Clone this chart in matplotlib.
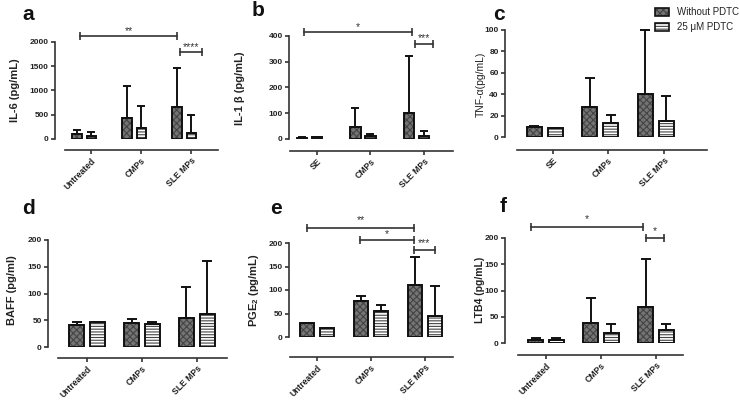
import matplotlib
matplotlib.use('Agg')
import matplotlib.pyplot as plt
from matplotlib.patches import Patch
import numpy as np

plt.rcParams['font.family'] = ['Liberation Sans', 'DejaVu Sans']
plt.rcParams['mathtext.fontset'] = 'custom'
plt.rcParams['mathtext.rm'] = 'Liberation Sans'
plt.rcParams['mathtext.bf'] = 'Liberation Sans:bold'
plt.rcParams['hatch.color'] = '#444444'
plt.rcParams['hatch.linewidth'] = 0.8

W, H = 740, 400
TXT = '#222222'

groups_a = ["Untreated", "CMPs", "SLE MPs"]
groups_se = ["SE", "CMPs", "SLE MPs"]
series_labels = ["Without PDTC", "25 \u03bcM PDTC"]

# means and upper error (pg/mL)
il6_dark = [100, 440, 670]
il6_dark_err = [90, 660, 790]
il6_light = [70, 220, 130]
il6_light_err = [70, 470, 360]

il1_dark = [5, 47, 100]
il1_dark_err = [2, 75, 222]
il1_light = [7, 10, 13]
il1_light_err = [2, 8, 20]

tnf_dark = [9, 28, 40]
tnf_dark_err = [1, 27, 60]
tnf_light = [8, 13, 15]
tnf_light_err = [0.5, 8, 23]

baff_dark = [41, 44, 55]
baff_dark_err = [6, 9, 57]
baff_light = [46, 43, 61]
baff_light_err = [1, 4, 99]

pge_dark = [29, 76, 110]
pge_dark_err = [1, 12, 60]
pge_light = [19, 55, 45]
pge_light_err = [1, 14, 63]

ltb_dark = [6, 38, 68]
ltb_dark_err = [4, 47, 92]
ltb_light = [6, 19, 25]
ltb_light_err = [4, 17, 11]

DARK_FACE = '#747474'
DARK_HATCH = 'xxxxx'
LIGHT_HATCH = '------'

fig = plt.figure(figsize=(W / 100, H / 100), dpi=100)


def px_axes(left, right, top, bottom):
    return fig.add_axes([left / W, 1 - bottom / H, (right - left) / W, (bottom - top) / H])


def panel(box, xlim, ylim, yticks, dark, dark_err, light, light_err, cats,
          width, off, tick_off, y_out, x_out, cap):
    ax = px_axes(*box)
    # spines first: set_position resets the tick labels
    ax.spines['top'].set_visible(False)
    ax.spines['right'].set_visible(False)
    ax.spines['left'].set_position(('outward', y_out * 0.72))
    ax.spines['bottom'].set_position(('outward', x_out * 0.72))
    for s in ['left', 'bottom']:
        ax.spines[s].set_linewidth(1.2)
        ax.spines[s].set_color('#333333')

    x = np.arange(len(cats))
    ax.bar(x - off, dark, width, color=DARK_FACE, hatch=DARK_HATCH, linewidth=0)
    ax.bar(x - off, dark, width, facecolor='none', edgecolor='#111111', linewidth=1.4)
    ax.bar(x + off, light, width, color='white', hatch=LIGHT_HATCH, linewidth=0)
    ax.bar(x + off, light, width, facecolor='none', edgecolor='#111111', linewidth=1.4)
    ax.errorbar(x - off, dark, yerr=[np.zeros(len(x)), dark_err], fmt='none',
                ecolor='#111111', elinewidth=1.4, capsize=cap, capthick=1.4, clip_on=False)
    ax.errorbar(x + off, light, yerr=[np.zeros(len(x)), light_err], fmt='none',
                ecolor='#111111', elinewidth=1.4, capsize=cap, capthick=1.4, clip_on=False)
    ax.set_xlim(*xlim)
    ax.set_ylim(*ylim)
    ax.set_yticks(yticks)
    ax.set_yticklabels([str(t) for t in yticks], fontsize=6, fontweight='bold', color=TXT)
    ax.set_xticks(x + tick_off)
    ax.set_xticklabels(cats, rotation=45, ha='right', rotation_mode='anchor',
                       fontsize=6.2, fontweight='bold', color=TXT)
    ax.tick_params(axis='both', length=3, width=1.2, color='#333333', pad=1.5)
    ax.set_facecolor('none')
    return ax


def bracket(ax, x1, x2, y, label, ty):
    ax.plot([x1, x2], [y, y], color='#333333', lw=1.2, marker='|', markersize=6,
            markeredgewidth=1.2, clip_on=False)
    ax.text((x1 + x2) / 2, ty, label, ha='center', va='center', fontsize=7.5,
            color='#333333', clip_on=False)


# a: IL-6
ax = panel((65, 218, 42, 139), (-0.38, 2.68), (0, 2000), [0, 500, 1000, 1500, 2000],
           il6_dark, il6_dark_err, il6_light, il6_light_err, groups_a,
           0.19, 0.145, 0.14, 10, 11, 2.8)
bracket(ax, -0.08, 1.86, 2124, '**', 2230)
bracket(ax, 1.92, 2.36, 1794, '****', 1900)

# b: IL-1 beta
ax = panel((290, 453, 36, 139), (-0.36, 2.68), (0, 400), [0, 100, 200, 300, 400],
           il1_dark, il1_dark_err, il1_light, il1_light_err, groups_se,
           0.19, 0.14, 0.14, 1, 12, 2.8)
bracket(ax, -0.10, 1.92, 416, '*', 436)
bracket(ax, 1.97, 2.31, 369, '***', 393)

# c: TNF-alpha
ax = panel((517, 707, 30, 137), (-0.50, 2.92), (0, 100), [0, 20, 40, 60, 80, 100],
           tnf_dark, tnf_dark_err, tnf_light, tnf_light_err, groups_se,
           0.27, 0.19, 0.14, 12, 13, 3.6)

# d: BAFF
ax = panel((58, 227, 240, 347), (-0.53, 2.55), (0, 200), [0, 50, 100, 150, 200],
           baff_dark, baff_dark_err, baff_light, baff_light_err, groups_a,
           0.27, 0.19, 0.0, 10, 11, 3.6)

# e: PGE2
ax = panel((290, 453, 243, 337), (-0.50, 2.52), (0, 200), [0, 50, 100, 150, 200],
           pge_dark, pge_dark_err, pge_light, pge_light_err, groups_a,
           0.26, 0.185, 0.0, 1, 20, 3.6)
bracket(ax, -0.19, 1.80, 232, '**', 248)
bracket(ax, 0.80, 1.80, 206, '*', 220)
bracket(ax, 1.80, 2.18, 185, '***', 199)

# f: LTB4
ax = panel((518, 683, 238, 343), (-0.51, 2.49), (0, 200), [0, 50, 100, 150, 200],
           ltb_dark, ltb_dark_err, ltb_light, ltb_light_err, groups_a,
           0.27, 0.185, 0.0, 13, 12, 3.6)
bracket(ax, -0.27, 1.76, 221, '*', 236)
bracket(ax, 1.82, 2.15, 200, '*', 214)

# y labels
ylabels = [
    (15, 90, "IL-6 (pg/mL)", 'bold', 8),
    (240, 88, "IL-1 \u03b2 (pg/mL)", 'bold', 8),
    (481, 84, "TNF-\u03b1(pg/mL)", 'normal', 7.5),
    (12, 290, "BAFF (pg/ml)", 'bold', 8),
    (254, 290, r"PGE$_{\mathbf{2}}$ (pg/mL)", 'bold', 8),
    (480, 290, "LTB4 (pg/mL)", 'bold', 7.5),
]
for xp, yp, txt, wt, fs in ylabels:
    fig.text(xp / W, 1 - yp / H, txt, rotation=90, ha='center', va='center',
             fontsize=fs, fontweight=wt, color=TXT)

# panel letters
for xp, yp, letter in [(22, 14, 'a'), (252, 11, 'b'), (493, 14, 'c'),
                       (22, 208, 'd'), (270, 208, 'e'), (500, 206, 'f')]:
    fig.text(xp / W, 1 - yp / H, letter, ha='left', va='center', fontsize=15,
             fontweight='bold', color='#111111')

# legend
h_dark = (Patch(facecolor=DARK_FACE, hatch=DARK_HATCH, linewidth=0),
          Patch(facecolor='none', edgecolor='#111111', linewidth=1.2))
h_light = (Patch(facecolor='white', hatch=LIGHT_HATCH, linewidth=0),
           Patch(facecolor='none', edgecolor='#111111', linewidth=1.2))
fig.legend([h_dark, h_light], series_labels, loc='upper left',
           bbox_to_anchor=(655 / W, 1 - 7 / H), frameon=False, fontsize=7,
           handlelength=1.4, handleheight=0.9, handletextpad=0.9,
           labelspacing=0.55, borderpad=0, borderaxespad=0, labelcolor=TXT)

fig.savefig('out.png', dpi=100)
